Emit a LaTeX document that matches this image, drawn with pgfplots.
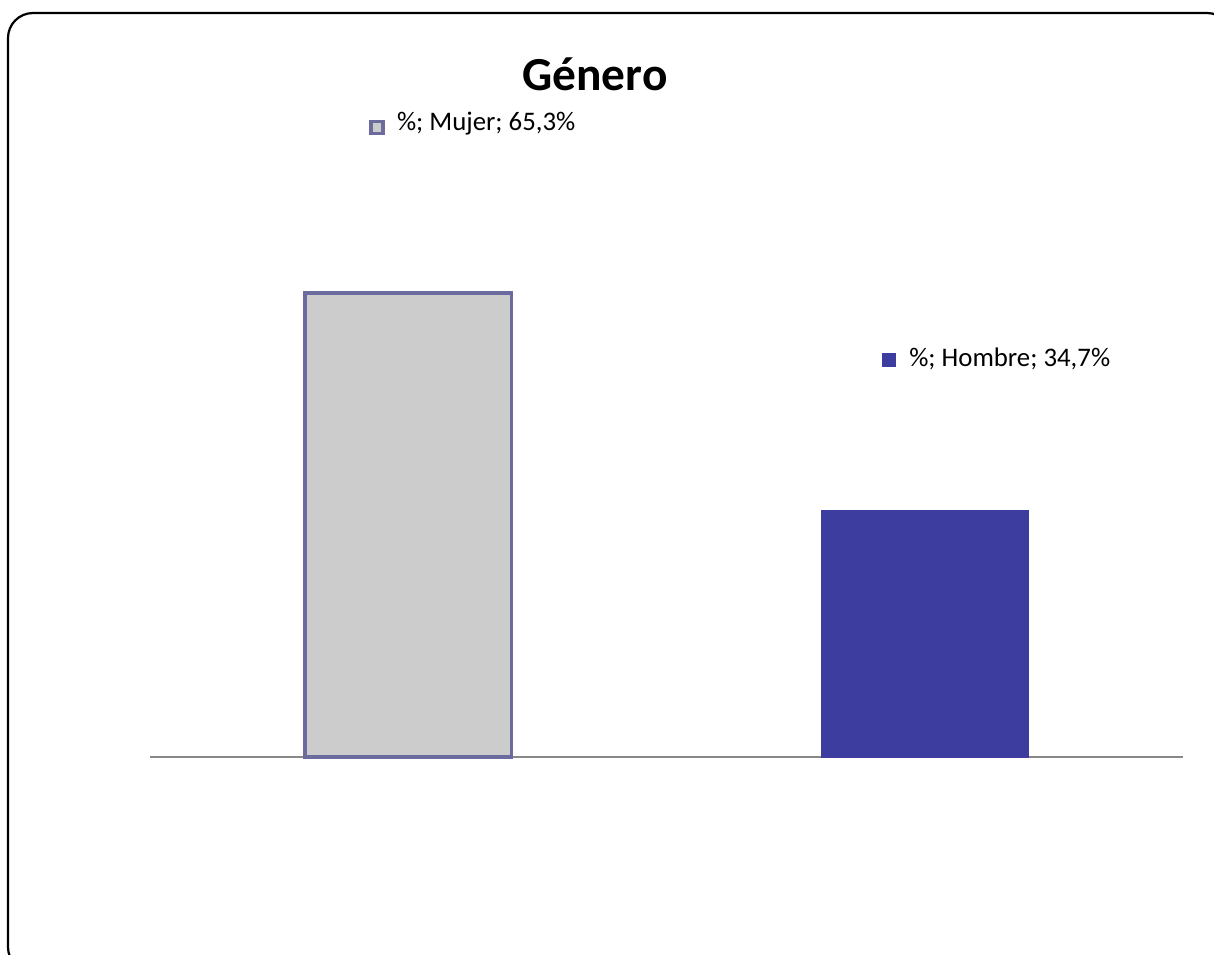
\documentclass[border=0pt]{standalone}
\usepackage{pgfplots}
\pgfplotsset{compat=1.18}
\usepackage{fontspec}
\setmainfont{Carlito}
\definecolor{mujerfill}{HTML}{CCCCCC}
\definecolor{mujerline}{HTML}{6B6B9E}
\definecolor{hombre}{HTML}{3D3DA0}
\definecolor{axisgray}{HTML}{888888}
\newcommand{\mujerkey}{{\setlength{\fboxsep}{0pt}\setlength{\fboxrule}{1.7pt}\fcolorbox{mujerline}{mujerfill}{\rule{0pt}{4.2pt}\rule{4.2pt}{0pt}}}}
\newcommand{\hombrekey}{{\color{hombre}\rule{7pt}{7pt}}}
\begin{document}
\begin{tikzpicture}
\begin{scope}[x=0.5pt,y=0.5pt]
\path[use as bounding box] (0,0) rectangle (1214,-954);
\clip (0,0) rectangle (1214,-954);
\draw[line width=1.1pt,rounded corners=12.5pt] (8,-13) rectangle (1232,-972);
\node[font=\fontsize{23.7}{28}\selectfont\bfseries] at (595,-74) {Género};
\end{scope}
\begin{axis}[
  at={(75pt,-378.5pt)}, anchor=south west,
  scale only axis,
  width=516.5pt, height=284pt,
  xmin=-0.5, xmax=1.5, ymin=0, ymax=80,
  axis x line=bottom, axis y line=none,
  x axis line style={draw=axisgray,line width=1.4pt,-},
  xtick=\empty, ytick=\empty,
  clip=false,
  ybar, bar width=0.4, bar shift=0pt,
]
\addplot[fill=mujerfill,draw=mujerline,line width=1.9pt] coordinates {(0,65.3)};
\addplot[fill=hombre,draw=hombre,line width=0.4pt] coordinates {(1,34.7)};
\node[anchor=west,font=\fontsize{13.4}{16}\selectfont,inner sep=0pt] at (axis cs:-0.076,89.15)
  {\raisebox{-0.4pt}{\mujerkey}\hspace{6.2pt}\%; Mujer; 65,3\%};
\node[anchor=west,font=\fontsize{13.4}{16}\selectfont,inner sep=0pt] at (axis cs:0.917,56.06)
  {\hombrekey\hspace{6.5pt}\%; Hombre; 34,7\%};
\end{axis}
\end{tikzpicture}
\end{document}
